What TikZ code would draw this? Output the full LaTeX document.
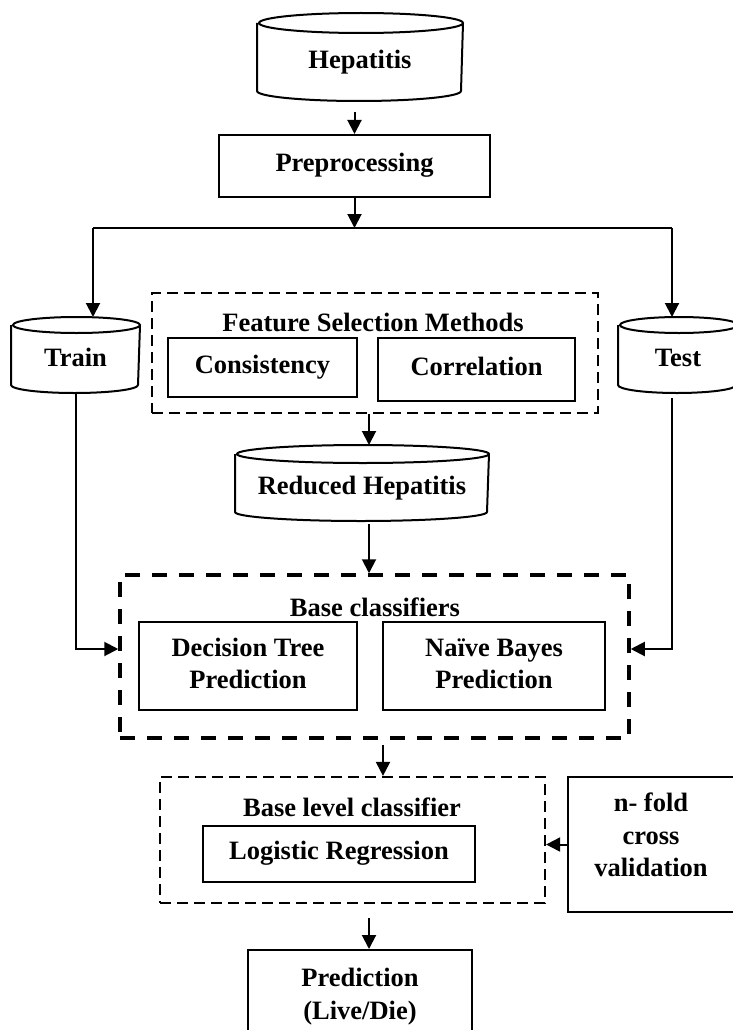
\documentclass[tikz,border=0pt]{standalone}
\usepackage{fontspec}
\setmainfont{Liberation Serif}
\usetikzlibrary{arrows.meta}
\tikzset{
	box/.style={draw,line width=2pt,align=center,inner sep=0pt},
	one/.style={text height=18pt,text depth=7pt},
	db/.style={inner sep=0pt,align=center,text height=29pt,text depth=6pt},
	dashbox/.style={draw,line width=2.2pt,dash pattern=on 11pt off 6pt,inner sep=0pt},
	thickdash/.style={draw,line width=3.5pt,dash pattern=on 15pt off 12pt,inner sep=0pt},
	lbl/.style={inner sep=0pt}
}
% database outline round a node: name, half width, ellipse radius
\newcommand\dbdraw[3]{%
	\draw[line width=2pt] ([yshift=-#3pt]#1.north west) -- ([yshift=#3pt]#1.south west)
		arc[start angle=180,end angle=360,x radius=#2pt,y radius=#3pt]
		-- ([yshift=-#3pt]#1.north east)
		arc[start angle=0,end angle=360,x radius=#2pt,y radius=#3pt];}
\begin{document}
\begin{tikzpicture}[x=1pt,y=-1pt,>={Triangle[length=14pt,width=14pt]},line width=2pt,font=\fontsize{26.5}{32.5}\selectfont\bfseries]
	\useasboundingbox (0,0) rectangle (732,1030);
	% data and preprocessing
	\node[db,minimum width=204pt,minimum height=86pt] (hep) at (360,57) {Hepatitis};
	\dbdraw{hep}{102}{10}
	\node[box,one,minimum width=271pt,minimum height=62pt] (pre) at (354.5,166) {Preprocessing};
	\node[db,minimum width=127pt,minimum height=74pt] (train) at (75.5,355) {Train};
	\dbdraw{train}{63.5}{8}
	\node[db,minimum width=118pt,minimum height=74pt] (test) at (678,355) {Test};
	\dbdraw{test}{59}{8}
	% feature selection
	\node[dashbox,minimum width=446pt,minimum height=120pt] (fsm) at (375,353) {};
	\node[lbl] (fsmlbl) at (373,322) {Feature Selection Methods};
	\node[box,one,minimum width=189pt,minimum height=59pt] (cons) at (262.5,367.5) {Consistency};
	\node[box,one,minimum width=197pt,minimum height=63pt] (corr) at (476.5,369.5) {Correlation};
	\node[db,minimum width=252pt,minimum height=74pt] (red) at (362,483) {Reduced Hepatitis};
	\dbdraw{red}{126}{9}
	% base classifiers
	\node[thickdash,minimum width=509pt,minimum height=163pt] (base) at (374.5,656.5) {};
	\node[lbl] (baselbl) at (375,607) {Base classifiers};
	\node[box,minimum width=218pt,minimum height=88pt] (dt) at (248,666) {Decision Tree\\Prediction\\[-27.5pt]};
	\node[box,minimum width=222pt,minimum height=88pt] (nb) at (494,666) {Naïve Bayes\\Prediction\\[-27.5pt]};
	% meta level
	\node[dashbox,minimum width=385pt,minimum height=126pt] (blc) at (352.5,840) {};
	\node[lbl] (blclbl) at (352,807) {Base level classifier};
	\node[box,one,minimum width=272pt,minimum height=56pt] (lr) at (339,854) {Logistic Regression};
	\node[box,minimum width=166pt,minimum height=135pt] (nfold) at (651,844.5) {n- fold\\cross\\validation\\[-13.5pt]};
	\node[box,minimum width=224pt,minimum height=95pt] (pred) at (360,997.5) {Prediction\\(Live/Die)\\[-25.5pt]};
	% connectors
	\coordinate (split) at (354.5,228);
	\coordinate (tl) at (93,228);
	\coordinate (tr) at (672,228);
	\draw[->,shorten <=11pt] (pre.north |- hep.south) -- (pre.north);
	\draw[->] (pre.south) -- (split);
	\draw (tl) -- (tr);
	\draw[->] (tl) -- (tl |- train.north);
	\draw[->] (tr) -- (tr |- test.north);
	\draw[->] ([xshift=7pt]red.north |- fsm.south) -- ([xshift=7pt]red.north);
	\draw[->,shorten <=3pt] ([xshift=7pt]red.south) -- ([xshift=7pt]red.south |- base.north);
	\draw[->] (train.south) |- ([yshift=7.5pt]base.west);
	\draw[->,shorten <=5pt] (tr |- test.south) |- ([yshift=7.5pt]base.east);
	\draw[->,shorten <=5pt] ([xshift=8.5pt]base.south) -- ([xshift=8.5pt]base.south |- blc.north);
	\draw[->] (nfold.west) -- (nfold.west -| blc.east);
	\draw[->,shorten <=14pt] ([xshift=9pt]pred.north |- blc.south) -- ([xshift=9pt]pred.north);
\end{tikzpicture}
\end{document}
